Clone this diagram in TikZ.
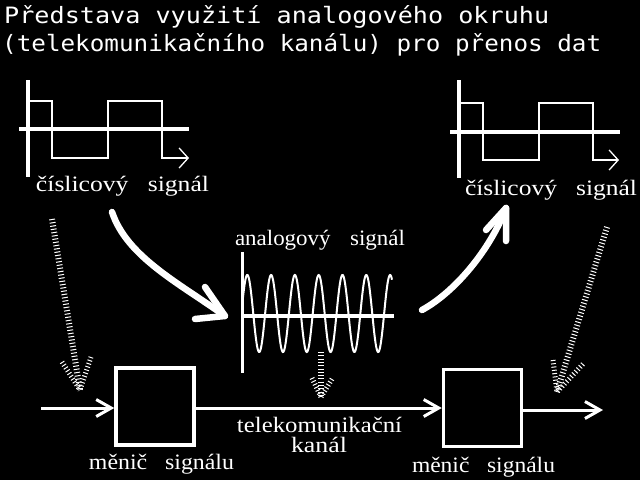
\documentclass[tikz,border=0pt]{standalone}
\usepackage{fontspec}
\usepackage{graphicx}
\newfontfamily\lblfont{Liberation Serif}
\newfontfamily\ttlfont{DejaVu Sans Mono}
\usetikzlibrary{arrows.meta}
\newcommand{\wl}[2]{\resizebox{#1pt}{\height}{#2}}
\begin{document}
\begin{tikzpicture}[x=1pt,y=-1pt,
  axis/.style={white,line width=3.5pt},
  wave/.style={white,line width=1.5pt},
  wavearrow/.style={wave,-{Straight Barb[length=9pt,width=20pt,line width=1.3pt]}},
  lbl/.style={white,anchor=base,inner sep=0pt,font=\lblfont\fontsize{22}{24}\selectfont},
  ttl/.style={white,anchor=base west,inner sep=0pt,font=\ttlfont\fontsize{22.5}{24}\selectfont},
  conv/.style={draw=white,line width=3.5pt,minimum width=78pt,minimum height=77pt,inner sep=0pt},
  flow/.style={white,line width=3pt,-{Straight Barb[length=15pt,width=17pt,line width=3pt]}},
  bigarrow/.style={white,line width=6.5pt,line cap=round,line join=round},
  dots/.style={white,line width=6pt,dash pattern=on 1pt off 2.3pt},
  dotbarb/.style={white,line width=5pt,dash pattern=on 1pt off 2.3pt}
]
\fill[black] (0,0) rectangle (640,480);
\useasboundingbox (0,0) rectangle (640,480);

% title
\node[ttl] (t1) at (4,23) {\wl{545}{Představa využití analogového okruhu}};
\node[ttl] (t2) at (2,51.5) {\wl{599}{(telekomunikačního kanálu) pro přenos dat}};

% left digital signal
\draw[axis] (28,80) -- (28,177);
\draw[axis] (19,129) -- (189,129);
\coordinate (lw0) at (30,101);
\coordinate (lwe) at (189,158);
\draw[wavearrow] (lw0) -- (52,101) -- (52,158) -- (108,158) -- (108,101) -- (162,101) -- (162,158) -- (lwe);
\node[lbl] (lsig) at (122.5,191) {\wl{173}{číslicový\hspace{0.75em}signál}};

% right digital signal
\draw[axis] (459,80) -- (459,178);
\draw[axis] (450,132) -- (620,132);
\coordinate (rw0) at (461,103);
\coordinate (rwe) at (619,160);
\draw[wavearrow] (rw0) -- (483,103) -- (483,160) -- (539,160) -- (539,103) -- (593,103) -- (593,160) -- (rwe);
\node[lbl] (rsig) at (551,195) {\wl{172}{číslicový\hspace{0.75em}signál}};

% analog signal
\node[lbl] (asig) at (320,245) {\wl{170}{analogový\hspace{0.85em}signál}};
\draw[axis,line width=3pt] (242,252) -- (242,373);
\draw[axis] (242,316) -- (394,316);
\draw[white,line width=2pt] plot[domain=0:149,samples=300,smooth] ({243+\x},{313.5-38.5*cos(15.126*(\x-4.3))});

% big curved arrows
\coordinate (Ls) at (112,212);
\coordinate (Le) at (225,316);
\draw[bigarrow] (Ls) .. controls (127,257) and (179,283) .. (Le);
\draw[bigarrow] (205,287) -- (Le) -- (195,319);
\coordinate (Rs) at (422,310);
\coordinate (Re) at (506,208);
\draw[bigarrow] (Rs) .. controls (455,292) and (490,250) .. (Re);
\draw[bigarrow] (486,230) -- (Re) -- (506,241);

% converters
\node[conv] (box1) at (155,406.5) {};
\node[conv] (box2) at (482.5,408) {};
\coordinate (in) at (41,408);
\coordinate (out) at (603,410);
\draw[flow] (in) -- (box1.west |- in);
\draw[flow] (box1.east |- in) -- (box2.west |- in);
\draw[flow] (box2.east |- out) -- (out);
\node[lbl] (m1) at (161.5,469) {\wl{145}{měnič\hspace{0.75em}signálu}};
\node[lbl] (m2) at (483.5,472) {\wl{143}{měnič\hspace{0.75em}signálu}};
\node[lbl] (k1) at (319.5,432) {\wl{165}{telekomunikační}};
\node[lbl] (k2) at (319,452) {\wl{56}{kanál}};

% dotted arrows
\coordinate (D1s) at (52,219);
\coordinate (D1e) at (80,390);
\draw[dots] (D1s) -- (D1e);
\draw[dotbarb] (62,362) -- (D1e);
\draw[dotbarb] (91,357) -- (D1e);
\coordinate (D2s) at (607,227);
\coordinate (D2e) at (557,392);
\draw[dots] (D2s) -- (D2e);
\draw[dotbarb] (553,360) -- (D2e);
\draw[dotbarb] (583,364) -- (D2e);
\coordinate (D3s) at (321,352);
\coordinate (D3e) at (321,397);
\draw[dots] (D3s) -- (D3e);
\draw[dotbarb] (312,378) -- (D3e);
\draw[dotbarb] (332,379) -- (D3e);
\end{tikzpicture}
\end{document}
